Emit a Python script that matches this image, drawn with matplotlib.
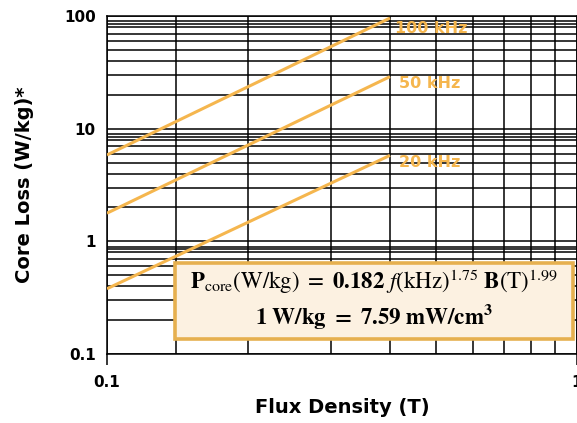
import numpy as np
import matplotlib
matplotlib.use("Agg")
import matplotlib.pyplot as plt
from matplotlib.ticker import FixedLocator, NullFormatter
from matplotlib.patches import Rectangle

plt.rcParams['font.family'] = 'DejaVu Sans'
plt.rcParams['mathtext.fontset'] = 'stix'

# core loss read at the two ends of each frequency line
flux_ends = [0.1, 0.4]
freq_labels = ['100 kHz', '50 kHz', '20 kHz']
loss_100k = [5.85, 96.0]
loss_50k = [1.78, 29.0]
loss_20k = [0.38, 5.8]

y_major = [0.1, 1, 10, 100]
y_major_labels = ['0.1', '1', '10', '100']
x_major = [0.1, 1]
x_major_labels = ['0.1', '1']

LINE_COLOR = '#f5b64e'
BOX_EDGE = '#e6b04f'
BOX_FILL = '#fcf1e1'

# chart paper grid: 2..9 per decade plus the odd extra rule near 8.5
y_grid = [k * 10.0 ** d for d in (-1, 0, 1) for k in (2, 3, 4, 5, 6, 7, 8, 8.5, 9)]
x_grid = [0.14, 0.2, 0.3, 0.4, 0.5, 0.6, 0.7, 0.8, 0.9]

fig = plt.figure(figsize=(5.77, 4.23), dpi=100)
ax = fig.add_axes([0.1854, 0.163, 0.8146, 0.799])
ax.set_xscale('log')
ax.set_yscale('log')
ax.set_xlim(0.1, 1)
ax.set_ylim(0.1, 100)

ax.yaxis.set_major_locator(FixedLocator(y_major))
ax.set_yticklabels(y_major_labels)
ax.yaxis.set_minor_locator(FixedLocator(y_grid))
ax.yaxis.set_minor_formatter(NullFormatter())
ax.xaxis.set_major_locator(FixedLocator(x_major))
ax.set_xticklabels(x_major_labels)
ax.xaxis.set_minor_locator(FixedLocator(x_grid))
ax.xaxis.set_minor_formatter(NullFormatter())

ax.grid(which='both', color='black', linewidth=1.1)
ax.set_axisbelow(True)
for s in ax.spines.values():
    s.set_linewidth(1.1)
ax.tick_params(axis='y', which='both', length=0, pad=8, labelsize=11)
ax.tick_params(axis='x', which='major', length=8, width=1.1, pad=7, labelsize=11)
ax.tick_params(axis='x', which='minor', length=0)
for lbl in ax.get_xticklabels() + ax.get_yticklabels():
    lbl.set_fontweight('bold')

for losses in (loss_100k, loss_50k, loss_20k):
    ax.plot(flux_ends, losses, color=LINE_COLOR, linewidth=2.2, zorder=3,
            solid_capstyle='butt')

label_pos = [(0.41, 78), (0.418, 25), (0.418, 5.0)]
for name, (lx, ly) in zip(freq_labels, label_pos):
    ax.text(lx, ly, name, color=LINE_COLOR, fontsize=11.5, fontweight='bold',
            ha='left', va='center', zorder=4)

box = Rectangle((0.1447, 0.0444), 0.8463, 0.2246, transform=ax.transAxes,
                facecolor=BOX_FILL, edgecolor=BOX_EDGE, linewidth=2.6, zorder=5)
ax.add_patch(box)
ax.text(0.569, 0.214,
        r'$\mathbf{P}_{\rm core}{\rm (W/kg)\ =\ }\mathbf{0.182}\ f{\rm (kHz)}^{1.75}\ \mathbf{B}{\rm (T)}^{1.99}$',
        transform=ax.transAxes, ha='center', va='center', fontsize=16.5, zorder=6)
ax.text(0.569, 0.110, r'$\mathbf{1\ W/kg\ =\ 7.59\ mW/cm^3}$',
        transform=ax.transAxes, ha='center', va='center', fontsize=16.5, zorder=6)

ax.set_xlabel('Flux Density (T)', fontsize=14, fontweight='bold', labelpad=6)
ax.set_ylabel('Core Loss (W/kg)*', fontsize=14, fontweight='bold', labelpad=22)

fig.savefig('out.png', dpi=100)
